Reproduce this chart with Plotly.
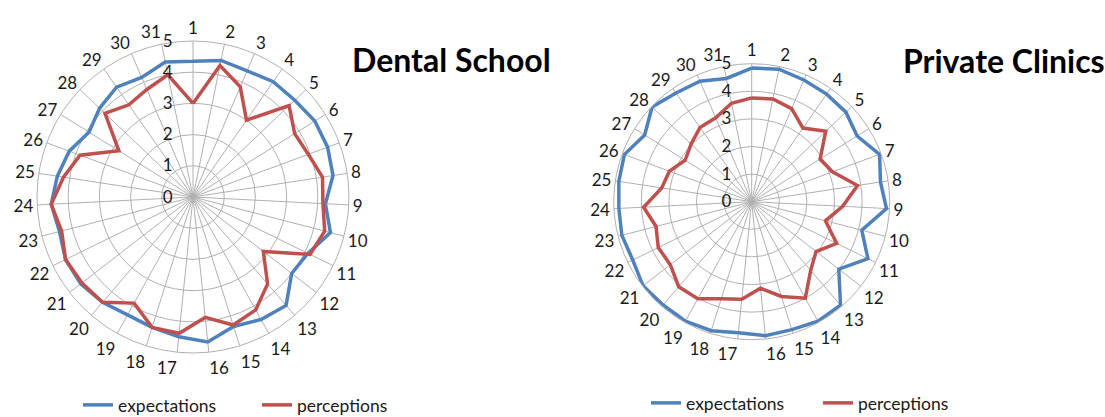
import plotly.graph_objects as go

categories = [str(i) for i in range(1, 32)]

dental_expectations = [4.35, 4.47, 4.40, 4.50, 4.50, 4.60, 4.60, 4.54, 4.25, 4.55,
                       4.10, 4.00, 4.58, 4.49, 4.35, 4.67, 4.50, 4.38, 4.32, 4.45,
                       4.55, 4.55, 4.42, 4.55, 4.40, 4.23, 3.93, 4.13, 4.29, 4.17, 4.42]
dental_perceptions = [3.00, 4.30, 3.84, 3.00, 4.25, 3.84, 3.94, 4.20, 4.17, 4.36,
                      4.18, 2.85, 3.67, 4.14, 4.30, 3.88, 4.39, 4.38, 3.89, 4.45,
                      4.50, 4.55, 4.35, 4.55, 4.20, 3.86, 2.80, 3.89, 3.60, 3.75, 4.00]

private_expectations = [4.84, 4.90, 4.80, 4.75, 4.71, 4.50, 4.94, 4.72, 4.89, 4.12,
                        4.69, 3.99, 4.94, 4.95, 4.86, 4.88, 4.77, 4.90, 4.95, 4.93,
                        4.98, 4.80, 4.86, 4.82, 4.87, 4.92, 4.57, 4.98, 4.80, 4.75, 4.56]
private_perceptions = [3.76, 3.80, 3.67, 3.25, 3.70, 2.92, 3.12, 3.88, 3.30, 2.76,
                       3.43, 2.95, 3.28, 4.00, 3.60, 3.15, 3.55, 3.69, 4.02, 4.06,
                       3.73, 3.77, 3.58, 3.92, 3.30, 3.18, 2.84, 3.03, 3.28, 3.31, 3.64]

radial_ticks = [0, 1, 2, 3, 4, 5]

BLUE = "#4F81BD"
RED = "#C0504D"
GRID = "#B0B0B0"
FONT = "Lato"
W, H = 1105, 417


def closed(v):
    return list(v) + [v[0]]


theta = closed(categories)

fig = go.Figure()
fig.add_trace(go.Scatterpolar(r=closed(dental_expectations), theta=theta, mode="lines",
                              name="expectations", line=dict(color=BLUE, width=3.5),
                              subplot="polar", legend="legend"))
fig.add_trace(go.Scatterpolar(r=closed(dental_perceptions), theta=theta, mode="lines",
                              name="perceptions", line=dict(color=RED, width=3.5),
                              subplot="polar", legend="legend"))
fig.add_trace(go.Scatterpolar(r=closed(private_expectations), theta=theta, mode="lines",
                              name="expectations", line=dict(color=BLUE, width=3.5),
                              subplot="polar2", legend="legend2"))
fig.add_trace(go.Scatterpolar(r=closed(private_perceptions), theta=theta, mode="lines",
                              name="perceptions", line=dict(color=RED, width=3.5),
                              subplot="polar2", legend="legend2"))


def polar_cfg(cx, cy, rad):
    x0 = (cx - rad) / W
    x1 = (cx + rad) / W
    yb = H - cy
    y0 = (yb - rad) / H
    y1 = (yb + rad) / H
    return dict(
        domain=dict(x=[x0, x1], y=[y0, y1]),
        bgcolor="white",
        angularaxis=dict(
            direction="clockwise", rotation=90, categoryorder="array",
            categoryarray=categories,
            showgrid=True, gridcolor=GRID, gridwidth=1,
            showline=True, linecolor=GRID, linewidth=1,
            ticks="",
            tickfont=dict(family=FONT, size=17, color="#1a1a1a"),
        ),
        radialaxis=dict(
            range=[0, 5], tickvals=radial_ticks, angle=90, tickangle=90,
            side="counterclockwise",
            showgrid=True, gridcolor=GRID, gridwidth=1,
            showline=False, ticks="outside", ticklen=14,
            tickcolor="rgba(0,0,0,0)",
            tickfont=dict(family=FONT, size=17, color="#1a1a1a"),
        ),
    )


fig.update_layout(
    width=W, height=H,
    margin=dict(l=0, r=0, t=0, b=0, autoexpand=False),
    paper_bgcolor="white",
    polar=polar_cfg(193, 197, 156),
    polar2=polar_cfg(751.7, 201.7, 138),
    legend=dict(orientation="h", x=78 / W, y=(H - 405) / H, xanchor="left",
                yanchor="middle", font=dict(family=FONT, size=17.5, color="#1a1a1a"),
                bgcolor="rgba(0,0,0,0)", entrywidth=134, itemwidth=30),
    legend2=dict(orientation="h", x=646 / W, y=(H - 403) / H, xanchor="left",
                 yanchor="middle", font=dict(family=FONT, size=17.5, color="#1a1a1a"),
                 bgcolor="rgba(0,0,0,0)", entrywidth=127, itemwidth=30),
    annotations=[
        dict(text="<b>Dental School</b>", x=350 / W, y=(H - 59) / H, xref="paper",
             yref="paper", xanchor="left", yanchor="middle", showarrow=False,
             font=dict(family=FONT, size=32, color="black")),
        dict(text="<b>Private Clinics</b>", x=901 / W, y=(H - 61) / H, xref="paper",
             yref="paper", xanchor="left", yanchor="middle", showarrow=False,
             font=dict(family=FONT, size=32, color="black")),
    ],
)

fig.write_html("out.html", config={"displayModeBar": False},
               post_script="document.body.style.margin='0';document.body.style.overflow='hidden';")
